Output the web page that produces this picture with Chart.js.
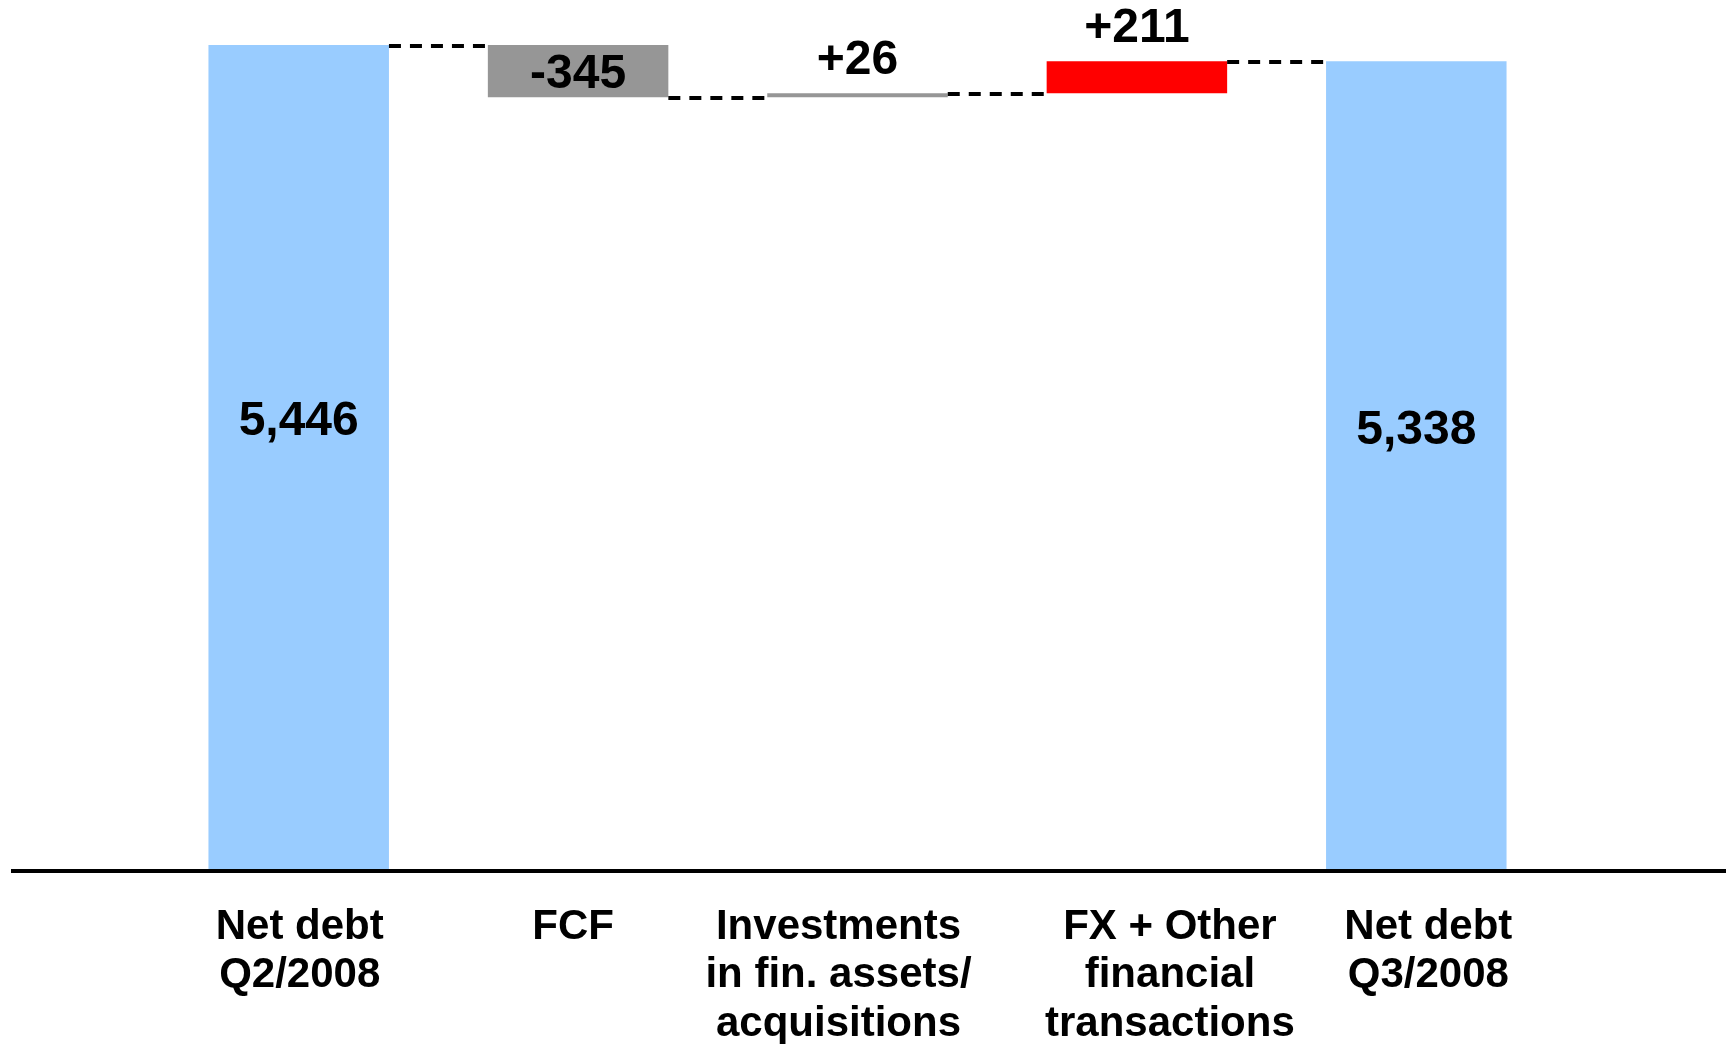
<!DOCTYPE html>
<html>
<head>
<meta charset="utf-8">
<script src="https://cdn.jsdelivr.net/npm/chart.js@4.4.1/dist/chart.umd.min.js"></script>
<style>
  html, body { margin: 0; padding: 0; background: #fff; }
  #wrap { width: 1729px; height: 1044px; }
</style>
</head>
<body>
<div id="wrap"><canvas id="myChart"></canvas></div>
<script>
// categories and values
var categories = [
  ["Net debt", "Q2/2008"],
  ["FCF"],
  ["Investments", "in fin. assets/", "acquisitions"],
  ["FX + Other", "financial", "transactions"],
  ["Net debt", "Q3/2008"]
];
var changes = [5446, -345, 26, 211, 5338];
var isTotal = [true, false, false, false, true];
var valueLabels = ["5,446", "-345", "+26", "+211", "5,338"];

// build the floating ranges for the waterfall
var ranges = [];
var running = 0;
for (var i = 0; i < changes.length; i++) {
  if (isTotal[i]) {
    running = changes[i];
    ranges.push([0, changes[i]]);
  } else {
    var start = running;
    running = running + changes[i];
    ranges.push([Math.min(start, running), Math.max(start, running)]);
  }
}

var FONT = "'Liberation Sans', Arial, Helvetica, sans-serif";
// the category texts in the original sit a little off the bar centres
var labelNudge = [1, -5, -19, 33, 12];

var waterfallExtras = {
  id: "waterfallExtras",
  afterDatasetsDraw: function (chart) {
    var ctx = chart.ctx;
    var y = chart.scales.y;
    var x = chart.scales.x;
    var bars = chart.getDatasetMeta(0).data;

    // dashed connectors between the bars
    ctx.save();
    ctx.strokeStyle = "#000";
    ctx.lineWidth = 4;
    ctx.setLineDash([12, 9]);
    var level = 0;
    for (var i = 0; i < bars.length - 1; i++) {
      level = isTotal[i] ? changes[i] : level + changes[i];
      var py = Math.round(y.getPixelForValue(level)) + 1;
      ctx.beginPath();
      ctx.moveTo(bars[i].x + bars[i].width / 2, py);
      ctx.lineTo(bars[i + 1].x - bars[i + 1].width / 2, py);
      ctx.stroke();
    }
    ctx.restore();

    // base line
    ctx.save();
    ctx.strokeStyle = "#000";
    ctx.lineWidth = 4;
    ctx.beginPath();
    var by = y.getPixelForValue(0) + 2;
    ctx.moveTo(11, by);
    ctx.lineTo(1726, by);
    ctx.stroke();
    ctx.restore();

    // value labels
    ctx.save();
    ctx.fillStyle = "#000";
    ctx.font = "bold 48px " + FONT;
    ctx.textAlign = "center";
    ctx.textBaseline = "middle";
    for (var j = 0; j < bars.length; j++) {
      var ly;
      if (isTotal[j]) {
        ly = y.getPixelForValue(changes[j] * 0.543);
      } else if (changes[j] < 0) {
        ly = y.getPixelForValue((ranges[j][0] + ranges[j][1]) / 2) + 4;
      } else {
        ly = y.getPixelForValue(ranges[j][1]) - 33;
      }
      ctx.fillText(valueLabels[j], bars[j].x, ly);
    }
    ctx.restore();

    // category labels under the base line
    ctx.save();
    ctx.fillStyle = "#000";
    ctx.font = "bold 42px " + FONT;
    ctx.textAlign = "center";
    ctx.textBaseline = "middle";
    var top = y.getPixelForValue(0) + 58;
    for (var k = 0; k < categories.length; k++) {
      var cx = x.getPixelForValue(k) + labelNudge[k];
      for (var m = 0; m < categories[k].length; m++) {
        ctx.fillText(categories[k][m], cx, top + m * 48.5);
      }
    }
    ctx.restore();
  }
};

var ctx = document.getElementById("myChart").getContext("2d");
var chart = new Chart(ctx, {
  type: "bar",
  data: {
    labels: categories,
    datasets: [
      {
        data: ranges,
        backgroundColor: ["#99CCFF", "#969696", "#969696", "#FF0000", "#99CCFF"],
        borderWidth: 0,
        barPercentage: 0.646,
        categoryPercentage: 1
      }
    ]
  },
  options: {
    responsive: true,
    maintainAspectRatio: false,
    animation: false,
    layout: { padding: { left: 159, right: 173, top: 45, bottom: 0 } },
    plugins: {
      legend: { display: false },
      tooltip: { enabled: false }
    },
    scales: {
      x: {
        grid: { display: false, drawTicks: false },
        border: { display: false },
        afterFit: function (scale) { scale.height = 175; },
        ticks: { display: false }
      },
      y: {
        display: false,
        min: 0,
        max: 5446
      }
    }
  },
  plugins: [waterfallExtras]
});
</script>
</body>
</html>
